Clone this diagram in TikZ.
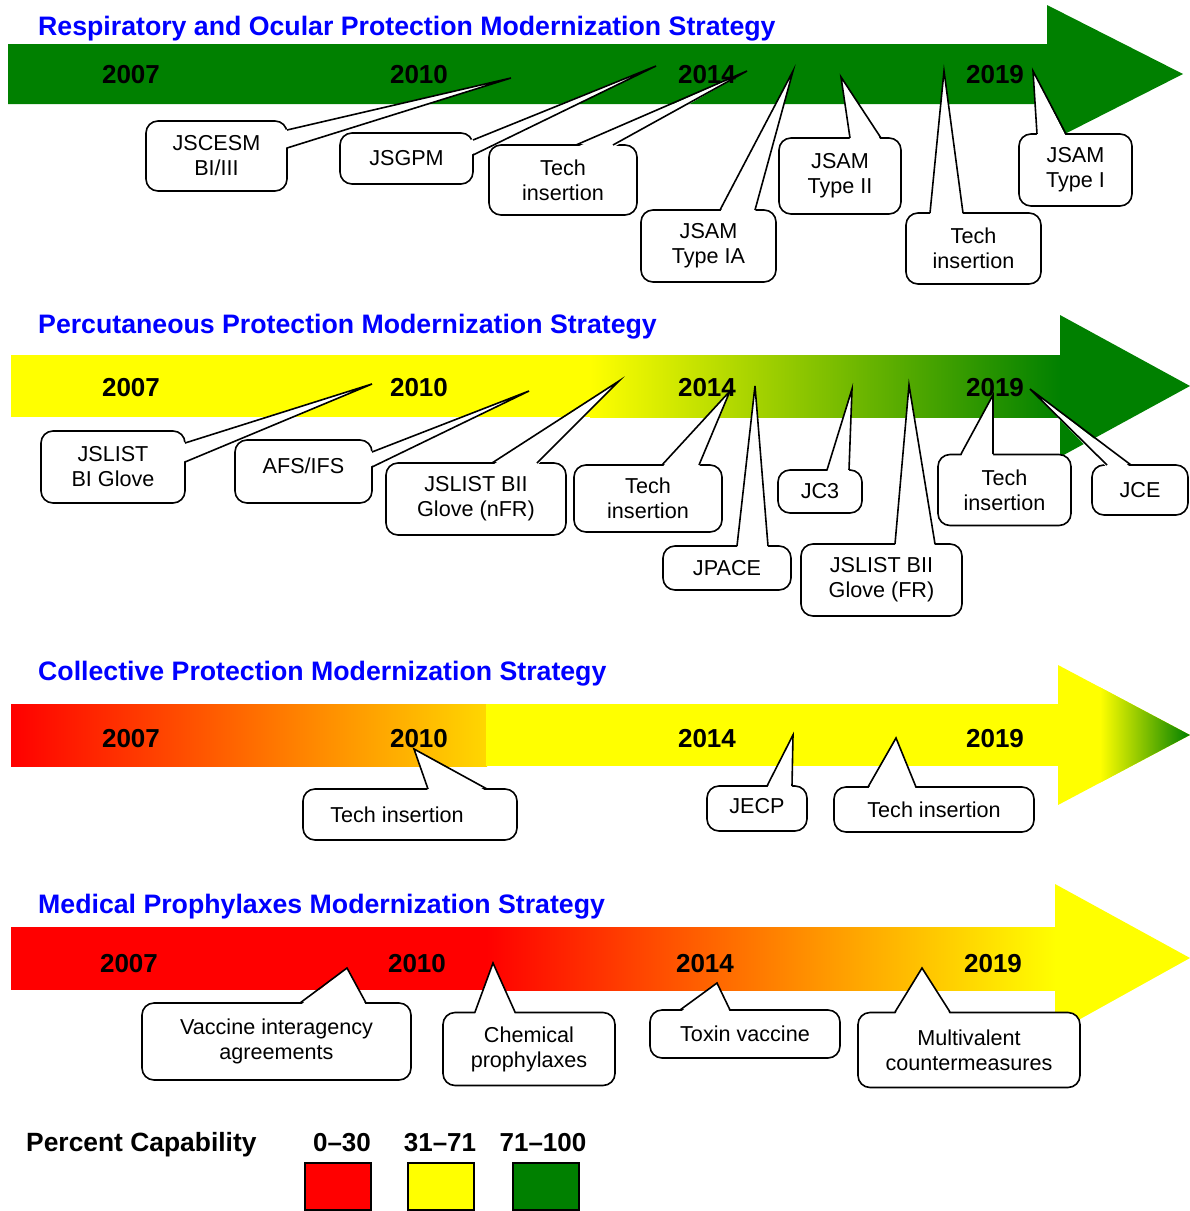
\documentclass[tikz,border=0pt]{standalone}
\usepackage{fontspec}
\setmainfont{Liberation Sans}
\usetikzlibrary{calc}
\definecolor{tgreen}{RGB}{0,128,0}
\definecolor{tyellow}{RGB}{255,255,0}
\definecolor{tred}{RGB}{255,0,0}
\definecolor{torange}{RGB}{255,140,0}
\definecolor{tgold}{RGB}{255,215,0}
\definecolor{tolive}{RGB}{165,190,0}
\definecolor{tblue}{RGB}{0,0,255}
\tikzset{
  cbox/.style={draw=black, fill=white, line width=1.6pt, rounded corners=12pt, inner sep=0pt, align=center, font=\fontsize{21.6}{25}\selectfont},
  cline/.style={draw=black, line width=1.6pt, line join=miter},
  ttl/.style={anchor=base west, inner sep=0pt, text=tblue, font=\fontsize{26.7}{30}\selectfont\bfseries},
  yr/.style={anchor=base, inner sep=0pt, font=\fontsize{26}{30}\selectfont\bfseries},
  legbox/.style={draw=black, line width=1.8pt},
}
% #1 name, #2 centre, #3 width, #4 height, #5 text, #6 base a, #7 base b, #8 tip, #9 inward shift
\newcommand\mycallout[9]{%
  \node[cbox, minimum width=#3, minimum height=#4] (#1) at #2 {#5};
  \coordinate (#1-tip) at #8;
  \coordinate (#1-a) at #6;
  \coordinate (#1-b) at #7;
  \fill[white] ($(#1-a)+#9$) -- (#1-tip) -- ($(#1-b)+#9$) -- cycle;
  \draw[cline] (#1-a) -- (#1-tip) -- (#1-b);
}
\begin{document}
\begin{tikzpicture}[x=1pt,y=-1pt]
\useasboundingbox (0,0) rectangle (1190,1211);
\fill[white] (0,0) rectangle (1190,1211);

% ---------- Section 1 ----------
\fill[tgreen] (8,44) -- (1047,44) -- (1047,5) -- (1183,74) -- (1047,143) -- (1047,104) -- (8,104) -- cycle;
\node[ttl] (t1) at (38,35) {Respiratory and Ocular Protection Modernization Strategy};
\node[yr] (y1a) at (131,83) {2007};
\node[yr] (y1b) at (419,83) {2010};
\node[yr] (y1c) at (707,83) {2014};
\node[yr] (y1d) at (995,83) {2019};

\mycallout{c11}{(216.5,156)}{141}{70}{JSCESM\\BI/III}{(287,130)}{(287,148)}{(511,78)}{(-2.5,0)}
\mycallout{c12}{(406.5,158.5)}{133}{51}{JSGPM}{(473,140)}{(473,155)}{(656,66)}{(-2.5,0)}
\mycallout{c13}{(563,180)}{148}{70}{Tech\\insertion}{(576,145)}{(613,145)}{(747,71)}{(0,2.5)}
\mycallout{c14}{(708.5,246)}{135}{72}{JSAM\\Type IA}{(720,210)}{(755,210)}{(793,71)}{(0,2.5)}
\mycallout{c15}{(840,176)}{122}{76}{JSAM\\Type II}{(850,138)}{(881,138)}{(841,77)}{(0,2.5)}
\mycallout{c16}{(973.5,248.5)}{135}{71}{Tech\\insertion}{(930,213)}{(963,213)}{(944,71)}{(0,2.5)}
\mycallout{c17}{(1075.5,170)}{113}{72}{JSAM\\Type I}{(1037,134)}{(1066,134)}{(1033,71)}{(0,2.5)}

% ---------- Section 2 ----------
\fill[tyellow] (11,355) rectangle (591,417);
\shade[left color=tyellow, middle color=tolive, right color=tgreen] (590,355) rectangle (1061,417);
\fill[tgreen] (1060,315) -- (1190,386) -- (1060,457) -- cycle;
\node[ttl] (t2) at (38,333) {Percutaneous Protection Modernization Strategy};
\node[yr] (y2a) at (131,396) {2007};
\node[yr] (y2b) at (419,396) {2010};
\node[yr] (y2c) at (707,396) {2014};
\node[yr] (y2d) at (995,396) {2019};

\mycallout{c21}{(113,467)}{144}{72}{JSLIST\\BI Glove}{(185,443)}{(185,462)}{(372,384)}{(-2.5,0)}
\mycallout{c22}{(303.5,471.5)}{137}{63}{\raisebox{6pt}[\height][\depth]{AFS/IFS}}{(372,452)}{(372,467)}{(529,391)}{(-2.5,0)}
\mycallout{c23}{(476,499)}{180}{72}{JSLIST BII\\Glove (nFR)}{(492,463)}{(537,463)}{(619,381)}{(0,2.5)}
\mycallout{c24}{(648,498.5)}{148}{67}{Tech\\insertion}{(662,465)}{(699,465)}{(730,391)}{(0,2.5)}
\mycallout{c25}{(727,568)}{128}{44}{JPACE}{(737,546)}{(768,546)}{(755,386)}{(0,2.5)}
\mycallout{c26}{(820,491.5)}{84}{43}{JC3}{(827,470)}{(849,470)}{(852,389)}{(0,2.5)}
\mycallout{c27}{(881.5,580)}{161}{72}{JSLIST BII\\Glove (FR)}{(895,544)}{(935,544)}{(909,385)}{(0,2.5)}
\mycallout{c28}{(1004.5,490)}{133}{71}{Tech\\insertion}{(961,454)}{(993,454)}{(993,395)}{(0,2.5)}
\mycallout{c29}{(1140,490)}{96}{50}{JCE}{(1107,465)}{(1131,465)}{(1030,389)}{(0,2.5)}

% ---------- Section 3 ----------
\shade[left color=tred, middle color=torange, right color=tgold] (11,704) rectangle (487,766);
\fill[tyellow] (486,704) rectangle (1059,766);
\fill[tyellow] (1058,665) -- (1190,735) -- (1058,805) -- cycle;
\begin{scope}
  \clip (1058,665) -- (1190,735) -- (1058,805) -- cycle;
  \shade[left color=tyellow, right color=tgreen] (1100,665) rectangle (1190,805);
\end{scope}
\node[ttl] (t3) at (38,680) {Collective Protection Modernization Strategy};
\node[yr] (y3a) at (131,747) {2007};
\node[yr] (y3b) at (419,747) {2010};
\node[yr] (y3c) at (707,747) {2014};
\node[yr] (y3d) at (995,747) {2019};

\mycallout{c31}{(410,814.5)}{214}{51}{Tech insertion\hspace*{26pt}}{(428,789)}{(487,789)}{(414,749)}{(0,2.5)}
\mycallout{c32}{(757,808.5)}{100}{45}{\raisebox{2pt}[\height][\depth]{JECP}}{(767,786)}{(792,786)}{(793,735)}{(0,2.5)}
\mycallout{c33}{(934,809.5)}{200}{45}{Tech insertion}{(868,787)}{(916,787)}{(896,738)}{(0,2.5)}

% ---------- Section 4 ----------
\fill[tred] (11,927) rectangle (487,990);
\shade[left color=tred, middle color=torange, right color=tyellow] (486,927) rectangle (1056,990);
\fill[tyellow] (1055,884) -- (1190,958) -- (1055,1033) -- cycle;
\node[ttl] (t4) at (38,913) {Medical Prophylaxes Modernization Strategy};
\node[yr] (y4a) at (129,972) {2007};
\node[yr] (y4b) at (417,972) {2010};
\node[yr] (y4c) at (705,972) {2014};
\node[yr] (y4d) at (993,972) {2019};

\mycallout{c41}{(276.5,1041.5)}{269}{77}{Vaccine interagency\\agreements}{(300,1003)}{(366,1003)}{(347,968)}{(0,2.5)}
\mycallout{c42}{(529,1049)}{172}{73}{Chemical\\prophylaxes}{(475,1012)}{(515,1012)}{(493,963)}{(0,2.5)}
\mycallout{c43}{(745,1034)}{190}{48}{Toxin vaccine}{(680,1010)}{(730,1010)}{(717,983)}{(0,2.5)}
\mycallout{c44}{(969,1050)}{222}{75}{Multivalent\\countermeasures}{(895,1012)}{(950,1012)}{(922,968)}{(0,2.5)}

% ---------- Legend ----------
\node[anchor=base west, inner sep=0pt, font=\fontsize{26.4}{30}\selectfont\bfseries] (leg) at (26,1151) {Percent Capability};
\node[yr] (l1) at (342,1151) {0–30};
\node[yr] (l2) at (440,1151) {31–71};
\node[yr] (l3) at (543,1151) {71–100};
\draw[legbox, fill=tred] (305,1163) rectangle (371,1210);
\draw[legbox, fill=tyellow] (408,1163) rectangle (474,1210);
\draw[legbox, fill=tgreen] (513,1163) rectangle (579,1210);
\end{tikzpicture}
\end{document}
